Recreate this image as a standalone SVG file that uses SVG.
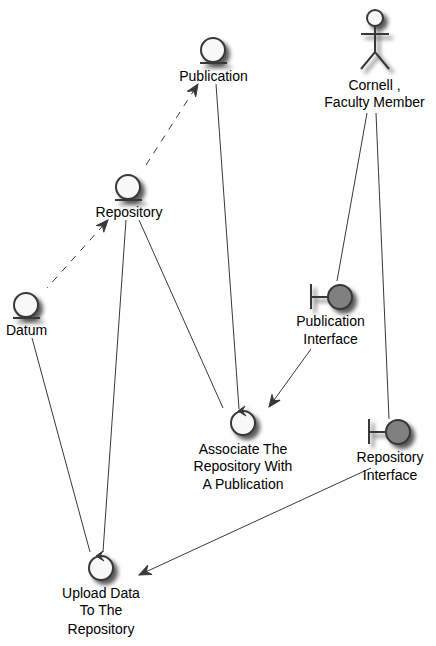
<svg xmlns="http://www.w3.org/2000/svg" width="436" height="646" viewBox="0 0 436 646">
<defs>
<filter id="sh" x="-50%" y="-50%" width="220%" height="220%" color-interpolation-filters="sRGB"><feGaussianBlur in="SourceAlpha" stdDeviation="2"/><feOffset dx="4" dy="4"/><feColorMatrix type="matrix" values="0 0 0 0 0.35 0 0 0 0 0.35 0 0 0 0 0.35 0 0 0 1 0"/><feMerge><feMergeNode/><feMergeNode in="SourceGraphic"/></feMerge></filter>
<marker id="ah" viewBox="0 0 14 12" refX="13" refY="6" markerWidth="14" markerHeight="12" markerUnits="userSpaceOnUse" orient="auto"><path d="M1 1 L13 6 L1 11 L5 6 Z" fill="#383838" stroke="#383838"/></marker>
</defs>
<style>
text{font-family:"Liberation Sans",Arial,sans-serif;font-size:14px;fill:#000;text-anchor:middle}
.c{fill:none;stroke:#383838;stroke-width:1}
.d{stroke-dasharray:7 7}
.e{fill:#f8f8f8;stroke:#383838;stroke-width:2}
.b{fill:#808080;stroke:#383838;stroke-width:2}
.l{fill:none;stroke:#383838;stroke-width:2}
.h{fill:#383838;stroke:#383838;stroke-width:1}
</style>
<rect width="436" height="646" fill="#fff"/>
<g id="connectors">
<path class="c d" d="M146 165 L198 84" marker-end="url(#ah)"/>
<path class="c d" d="M47 288 L108 220" stroke-dashoffset="6" marker-end="url(#ah)"/>
<path class="c" d="M216 84 L239 409"/>
<path class="c" d="M139 220 L223 408"/>
<path class="c" d="M126 220 L103 552"/>
<path class="c" d="M32 338 L90 552"/>
<path class="c" d="M367 113 L337 281"/>
<path class="c" d="M376 113 L389 419"/>
<path class="c" d="M311 349 L269 407" marker-end="url(#ah)"/>
<path class="c" d="M371 468 L139 575" marker-end="url(#ah)"/>
</g>
<g id="publication"><g filter="url(#sh)"><circle class="e" cx="213" cy="50" r="12"/><path class="l" d="M200 63H227"/></g><text x="213.500" y="81">Publication</text></g>
<g id="repository"><g filter="url(#sh)"><circle class="e" cx="128" cy="187" r="12"/><path class="l" d="M115 200H142"/></g><text x="129" y="217">Repository</text></g>
<g id="datum"><g filter="url(#sh)"><circle class="e" cx="26" cy="305" r="12"/><path class="l" d="M13 318H40"/></g><text x="26.500" y="335">Datum</text></g>
<g id="cornell"><g filter="url(#sh)"><circle class="e" cx="375" cy="18" r="8"/><path class="l" d="M375 26V52M361 34H389M361 69L375 52L389 69"/></g><text x="374.500" y="90">Cornell ,</text><text x="374.500" y="107">Faculty Member</text></g>
<g id="publication-interface"><g filter="url(#sh)"><circle class="b" cx="340" cy="297" r="12"/><path class="l" d="M311 284V309M311 297H328"/></g><text x="330.500" y="326">Publication</text><text x="330.500" y="344">Interface</text></g>
<g id="repository-interface"><g filter="url(#sh)"><circle class="b" cx="398" cy="432" r="12"/><path class="l" d="M369 419V444M369 432H386"/></g><text x="390" y="462">Repository</text><text x="390" y="480">Interface</text></g>
<g id="associate"><g filter="url(#sh)"><circle class="e" cx="243" cy="423" r="12"/><path class="h" d="M245 406L238 411L246 416L242 411Z"/></g><text x="243" y="454">Associate The</text><text x="243" y="471">Repository With</text><text x="243" y="489">A Publication</text></g>
<g id="upload"><g filter="url(#sh)"><circle class="e" cx="101" cy="568" r="12"/><path class="h" d="M103 551L96 556L104 561L100 556Z"/></g><text x="101" y="598">Upload Data</text><text x="101" y="615">To The</text><text x="101" y="634">Repository</text></g>
</svg>
